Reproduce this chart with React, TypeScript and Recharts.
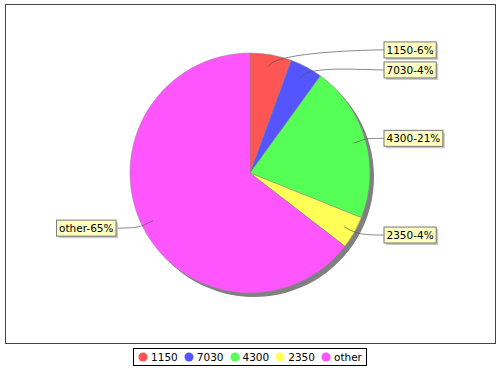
import React from 'react';
import { PieChart, Pie, Cell, Legend } from 'recharts';

const categories = ['1150', '7030', '4300', '2350', 'other'];
const values = [56, 44, 211, 44, 646];
const colors = ['#FF5555', '#5555FF', '#55FF55', '#FFFF55', '#FF55FF'];

const data = categories.map((name, i) => ({ name, value: values[i] }));
const total = values.reduce((a, b) => a + b, 0);

const CX = 250;
const CY = 173;
const R = 120;
const RAD = Math.PI / 180;
const FONT = '10.5px "DejaVu Sans"';

let ctx: CanvasRenderingContext2D | null = null;
const textWidth = (s: string) => {
  if (!ctx) ctx = document.createElement('canvas').getContext('2d');
  if (!ctx) return s.length * 6.5;
  ctx.font = FONT;
  return ctx.measureText(s).width;
};

// label layout: labels on both sides of the pie, pushed apart when they overlap
const layoutLabels = () => {
  let acc = 0;
  const items = data.map((d, i) => {
    const mid = 90 - ((acc + d.value / 2) / total) * 360;
    acc += d.value;
    const side = Math.cos(mid * RAD) >= 0 ? 1 : -1;
    return { i, mid, side, y: CY - 125 * Math.sin(mid * RAD) };
  });
  [1, -1].forEach((side) => {
    const list = items.filter((it) => it.side === side).sort((a, b) => a.y - b.y);
    for (let k = 1; k < list.length; k++) {
      if (list[k].y - list[k - 1].y < 20) list[k].y = list[k - 1].y + 20;
    }
  });
  return items;
};

const labelPos = layoutLabels();

const renderLabel = (props: any) => {
  const p = labelPos[props.index];
  const d = data[props.index];
  const text = `${d.name}-${Math.round((d.value / total) * 100)}%`;
  const w = textWidth(text) + 5;
  const h = 16;
  const edgeX = CX + p.side * (R + 14);
  const boxX = p.side > 0 ? edgeX : edgeX - w;
  const a = p.mid * RAD;
  const linkX = CX + 0.9 * R * Math.cos(a);
  const linkY = CY - 0.9 * R * Math.sin(a);
  const elbX = CX + (R + 2) * Math.cos(a);
  const elbY = CY - (R + 2) * Math.sin(a);
  const c2x = CX + p.side * (R - 10);
  return (
    <g key={`lbl-${props.index}`}>
      <path
        d={`M${linkX},${linkY} C${elbX},${elbY} ${c2x},${p.y} ${edgeX},${p.y}`}
        fill="none"
        stroke="#555"
        strokeWidth={0.7}
      />
      <rect x={boxX + 2} y={p.y - h / 2 + 2} width={w} height={h} fill="#c8c8c8" />
      <rect x={boxX} y={p.y - h / 2} width={w} height={h} fill="#FFFFC0" stroke="#777" strokeWidth={1} />
      <text
        x={boxX + w / 2}
        y={p.y + 4}
        textAnchor="middle"
        fontFamily='"DejaVu Sans"'
        fontSize={10.5}
        fill="#000"
      >
        {text}
      </text>
    </g>
  );
};

const LegendBox = () => (
  <div style={{ display: 'flex', justifyContent: 'center' }}>
    <div
      style={{
        display: 'flex',
        alignItems: 'center',
        border: '1px solid #000',
        padding: '2px 4px',
        font: FONT,
        color: '#000',
        background: '#fff',
      }}
    >
      {categories.map((c, i) => (
        <div key={c} style={{ display: 'flex', alignItems: 'center', marginRight: i < categories.length - 1 ? 6 : 0 }}>
          <svg width={10} height={10} style={{ marginRight: 3 }}>
            <circle cx={5} cy={5} r={4.5} fill={colors[i]} />
          </svg>
          <span>{c}</span>
        </div>
      ))}
    </div>
  </div>
);

export default function App() {
  return (
    <div style={{ position: 'absolute', left: 0, top: 0, width: 500, height: 370, background: '#fff' }}>
      <div
        style={{
          position: 'absolute',
          left: 5,
          top: 4,
          width: 489,
          height: 338,
          border: '1.5px solid #444',
          pointerEvents: 'none',
        }}
      />
      <PieChart width={500} height={370} margin={{ top: 0, right: 0, bottom: 0, left: 0 }}>
        <Pie
          data={[{ name: 'shadow', value: 1 }]}
          dataKey="value"
          cx={CX + 4}
          cy={CY + 4}
          outerRadius={R}
          startAngle={90}
          endAngle={-270}
          fill="#808080"
          stroke="none"
          isAnimationActive={false}
          legendType="none"
        />
        <Pie
          data={data}
          dataKey="value"
          nameKey="name"
          cx={CX}
          cy={CY}
          outerRadius={R}
          startAngle={90}
          endAngle={-270}
          stroke="#888"
          strokeWidth={0.5}
          label={renderLabel}
          labelLine={false}
          isAnimationActive={false}
        >
          {data.map((d, i) => (
            <Cell key={d.name} fill={colors[i]} />
          ))}
        </Pie>
        <Legend
          verticalAlign="bottom"
          content={() => <LegendBox />}
          wrapperStyle={{ left: 0, top: 348, width: 500 }}
        />
      </PieChart>
    </div>
  );
}
